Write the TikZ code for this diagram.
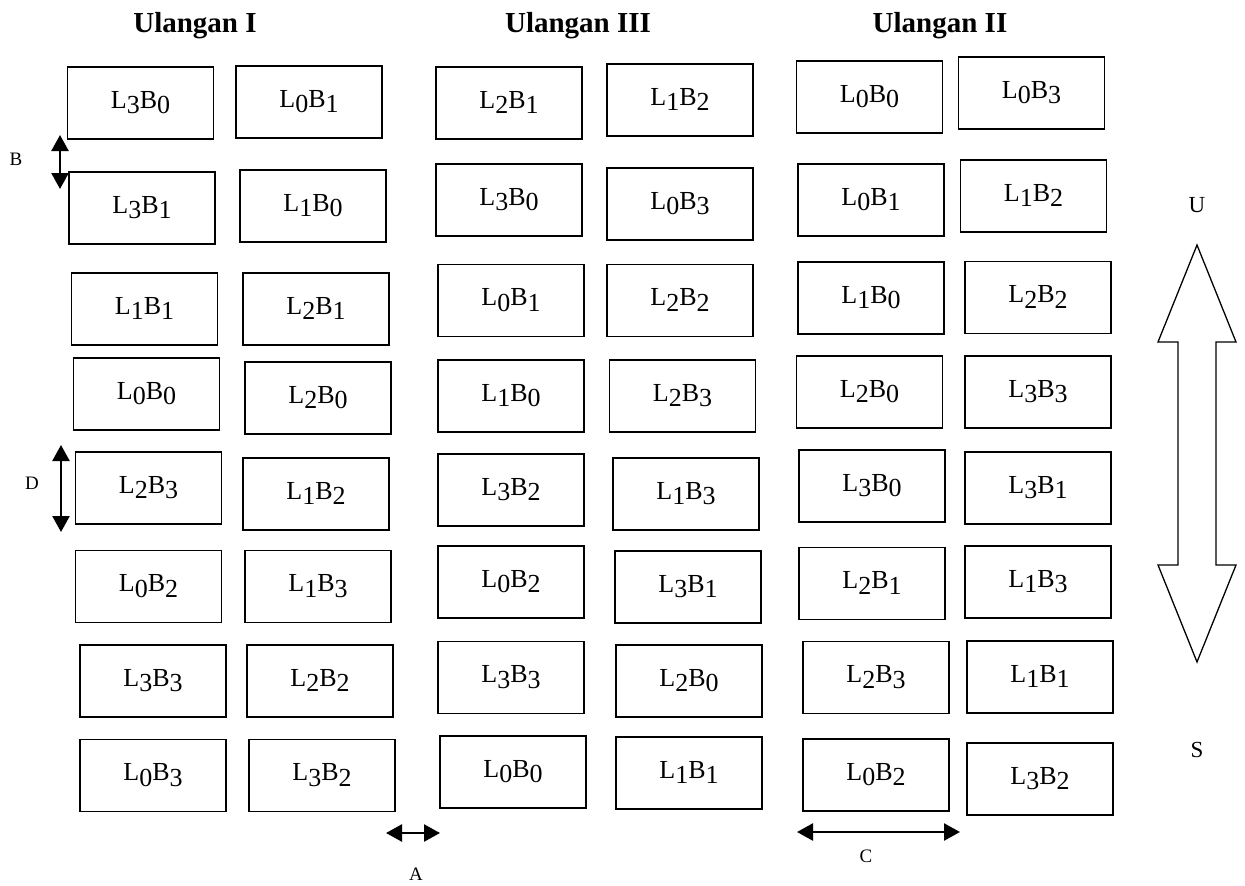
\documentclass[tikz,border=0pt]{standalone}
\usepackage{fontspec}
\setmainfont{Liberation Serif}
\usetikzlibrary{arrows.meta}
\newcommand\LB[2]{L\raisebox{-0.23em}{#1}B\raisebox{-0.23em}{#2}}
\begin{document}
\begin{tikzpicture}[x=1pt,y=-1pt,
  plotbox/.style={draw, line width=1.4pt, minimum width=146pt, minimum height=72pt,
    inner sep=0pt, font=\fontsize{26}{26}\selectfont, text height=16pt, text depth=6pt},
  title/.style={anchor=base, inner sep=0pt, font=\fontsize{29}{29}\selectfont\bfseries},
  small/.style={inner sep=0pt, font=\fontsize{19}{19}\selectfont},
  compass/.style={inner sep=0pt, font=\fontsize{23}{23}\selectfont},
  dim/.style={line width=2.4pt, {Triangle[width=17pt,length=16pt]}-{Triangle[width=17pt,length=16pt]}},
  bigarrow/.style={draw, line width=1.3pt, line join=miter}]
\useasboundingbox (0,0) rectangle (1245,886);

% titles
\node[title] (t1) at (195,32) {Ulangan I};
\node[title] (t2) at (578,32) {Ulangan III};
\node[title] (t3) at (940,32) {Ulangan II};

% Ulangan I
\foreach \n/\x/\y/\a/\b in {
  a1/140.5/103/3/0, b1/309/102/0/1,
  a2/142/208/3/1, b2/313/206/1/0,
  a3/144.5/309/1/1, b3/316/309/2/1,
  a4/146.5/394/0/0, b4/318/398/2/0,
  a5/148.5/488/2/3, b5/316/494/1/2,
  a6/148.5/586.5/0/2, b6/318/586.5/1/3,
  a7/153/681/3/3, b7/320/681/2/2,
  a8/153/775.5/0/3, b8/322/775.5/3/2}
  \node[plotbox] (\n) at (\x,\y) {\LB{\a}{\b}};

% Ulangan III
\foreach \n/\x/\y/\a/\b in {
  c1/509/103/2/1, d1/680/100/1/2,
  c2/509/200/3/0, d2/680/204/0/3,
  c3/511/300.5/0/1, d3/680/300.5/2/2,
  c4/511/396/1/0, d4/682.5/396/2/3,
  c5/511/490/3/2, d5/686/494/1/3,
  c6/511/582/0/2, d6/688/587/3/1,
  c7/511/677.5/3/3, d7/689/681/2/0,
  c8/513/772/0/0, d8/689/773/1/1}
  \node[plotbox] (\n) at (\x,\y) {\LB{\a}{\b}};

% Ulangan II
\foreach \n/\x/\y/\a/\b in {
  e1/869.5/97/0/0, f1/1031.5/93/0/3,
  e2/871/200/0/1, f2/1033.5/196/1/2,
  e3/871/298/1/0, f3/1038/297.5/2/2,
  e4/869.5/392/2/0, f4/1038/392/3/3,
  e5/872/486/3/0, f5/1038/488/3/1,
  e6/872/583.5/2/1, f6/1038/582/1/3,
  e7/876/677.5/2/3, f7/1040/677/1/1,
  e8/876/775/0/2, f8/1040/779/3/2}
  \node[plotbox] (\n) at (\x,\y) {\LB{\a}{\b}};

% dimension arrows
\coordinate (bt) at (60,135); \coordinate (bb) at (60,189);
\draw[dim] (bt) -- (bb);
\node[small] (lb) at (16,159) {B};

\coordinate (dt) at (61,445); \coordinate (db) at (61,532);
\draw[dim] (dt) -- (db);
\node[small] (ld) at (32,483) {D};

\coordinate (al) at (386,833); \coordinate (ar) at (440,833);
\draw[dim] (al) -- (ar);
\node[small] (la) at (416,874) {A};

\coordinate (cl) at (797,832); \coordinate (cr) at (960,832);
\draw[dim] (cl) -- (cr);
\node[small] (lc) at (866,856) {C};

% compass arrow
\draw[bigarrow] (1197,245) -- (1236,342) -- (1216,342) -- (1216,565) -- (1236,565)
  -- (1197,662) -- (1158,565) -- (1178,565) -- (1178,342) -- (1158,342) -- cycle;
\node[compass] (u) at (1197,205) {U};
\node[compass] (s) at (1197,750) {S};
\end{tikzpicture}
\end{document}
